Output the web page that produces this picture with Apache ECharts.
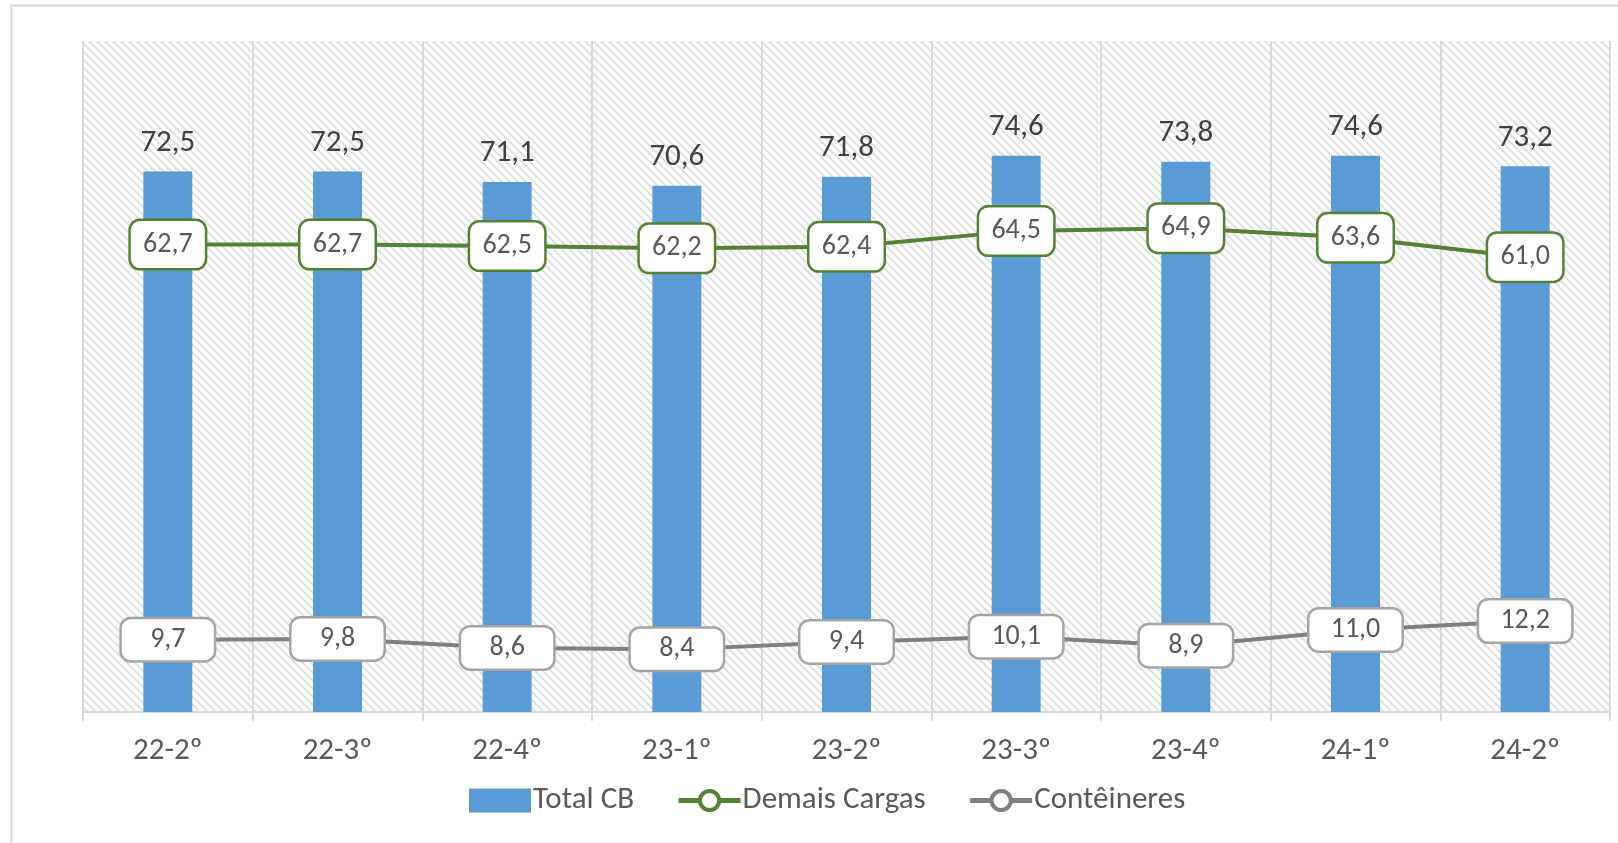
<!DOCTYPE html>
<html style="height: 100%">
  <head>
    <meta charset="utf-8" />
  </head>
  <body style="height: 100%; margin: 0; background: #fff">
    <div id="container" style="position: absolute; left: 0; top: 0; width: 1618px; height: 843px"></div>
    <script type="text/javascript" src="https://cdn.jsdelivr.net/npm/echarts@6/dist/echarts.min.js"></script>
    <script type="text/javascript">
      var categories = ['22-2º', '22-3º', '22-4º', '23-1º', '23-2º', '23-3º', '23-4º', '24-1º', '24-2º'];
      var totalCB = [72.5, 72.5, 71.1, 70.6, 71.8, 74.6, 73.8, 74.6, 73.2];
      var demaisCargas = [62.7, 62.7, 62.5, 62.2, 62.4, 64.5, 64.9, 63.6, 61.0];
      var conteineres = [9.7, 9.8, 8.6, 8.4, 9.4, 10.1, 8.9, 11.0, 12.2];

      var fontFamily = 'Carlito, Lato, sans-serif';

      // format with comma decimal
      function fmt(p) {
        return p.value.toFixed(1).replace('.', ',');
      }

      // diagonal hatch for the plot area
      var tile = document.createElement('canvas');
      tile.width = 8;
      tile.height = 8;
      var ctx = tile.getContext('2d');
      ctx.fillStyle = '#ffffff';
      ctx.fillRect(0, 0, 8, 8);
      ctx.strokeStyle = '#e0e0e0';
      ctx.lineWidth = 2;
      [[-8, -8, 16, 16], [-8, 0, 8, 16], [0, -8, 16, 8]].forEach(function (l) {
        ctx.beginPath();
        ctx.moveTo(l[0], l[1]);
        ctx.lineTo(l[2], l[3]);
        ctx.stroke();
      });

      var dom = document.getElementById('container');
      var myChart = echarts.init(dom);

      var option = {
        animation: false,
        textStyle: { fontFamily: fontFamily },
        graphic: [
          {
            type: 'rect',
            left: 9,
            top: 3,
            shape: { width: 1640, height: 900 },
            style: { fill: null, stroke: '#d9d9d9', lineWidth: 2 },
            silent: true
          }
        ],
        grid: {
          left: 83,
          right: 8,
          top: 41,
          bottom: 131,
          show: true,
          borderWidth: 0,
          backgroundColor: { image: tile, repeat: 'repeat' }
        },
        legend: {
          left: 464,
          top: 780,
          itemGap: 42,
          itemWidth: 62,
          itemHeight: 24,
          textStyle: { fontSize: 31, color: '#595959', fontFamily: fontFamily, padding: [0, 0, 0, -3] },
          data: [
            { name: 'Total CB', icon: 'rect' },
            { name: 'Demais Cargas', lineStyle: { width: 5 }, itemStyle: { borderWidth: 4 } },
            { name: 'Contêineres', lineStyle: { width: 5 }, itemStyle: { borderWidth: 4 } }
          ]
        },
        xAxis: {
          type: 'category',
          data: categories,
          boundaryGap: true,
          axisLine: { lineStyle: { color: '#d9d9d9', width: 2 } },
          axisTick: { show: true, length: 9, lineStyle: { color: '#d9d9d9', width: 2 } },
          splitLine: { show: true, lineStyle: { color: '#d9d9d9', width: 2 } },
          axisLabel: { fontSize: 31, color: '#595959', margin: 24, fontFamily: fontFamily }
        },
        yAxis: {
          type: 'value',
          min: 0,
          max: 90,
          show: false,
          splitLine: { show: false }
        },
        series: [
          {
            name: 'Total CB',
            type: 'bar',
            data: totalCB,
            barWidth: 49,
            itemStyle: { color: '#5b9bd5' },
            label: {
              show: true,
              position: 'top',
              distance: 13,
              fontSize: 31,
              color: '#404040',
              fontFamily: fontFamily,
              formatter: fmt
            }
          },
          {
            name: 'Demais Cargas',
            type: 'line',
            data: demaisCargas,
            symbol: 'circle',
            symbolSize: 12,
            itemStyle: { color: '#ffffff', borderColor: '#548235', borderWidth: 3 },
            lineStyle: { color: '#548235', width: 4 },
            label: {
              show: true,
              position: 'inside',
              fontSize: 28,
              color: '#595959',
              fontFamily: fontFamily,
              backgroundColor: '#ffffff',
              borderColor: '#548235',
              borderWidth: 2.5,
              borderRadius: 9,
              width: 54,
              align: 'center',
              lineHeight: 29,
              padding: [9, 10],
              formatter: fmt
            }
          },
          {
            name: 'Contêineres',
            type: 'line',
            data: conteineres,
            symbol: 'circle',
            symbolSize: 12,
            itemStyle: { color: '#ffffff', borderColor: '#7f7f7f', borderWidth: 3 },
            lineStyle: { color: '#7f7f7f', width: 4 },
            label: {
              show: true,
              position: 'inside',
              fontSize: 28,
              color: '#595959',
              fontFamily: fontFamily,
              backgroundColor: '#ffffff',
              borderColor: '#a5a5a5',
              borderWidth: 2.5,
              borderRadius: 9,
              width: 64,
              align: 'center',
              lineHeight: 29,
              padding: [6, 14],
              formatter: fmt
            }
          }
        ]
      };

      myChart.setOption(option);
    </script>
  </body>
</html>
